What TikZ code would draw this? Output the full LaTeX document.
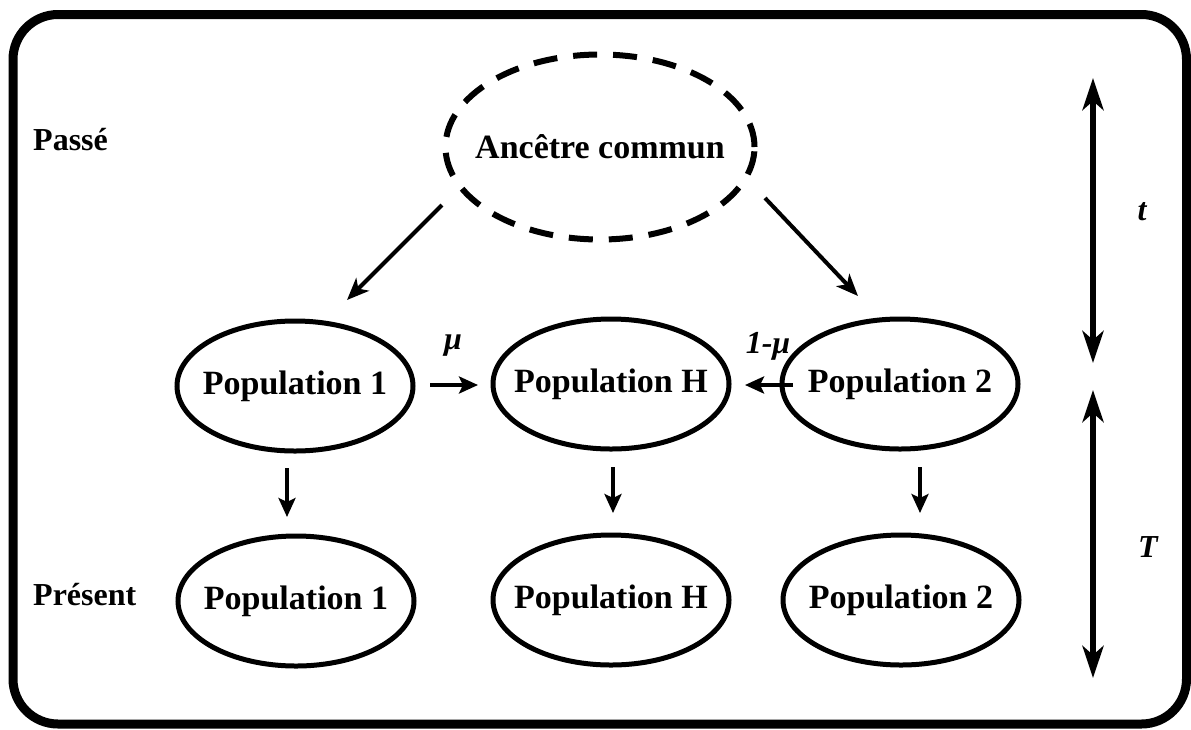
\documentclass[tikz,border=0pt]{standalone}
\usepackage{fontspec}
\setmainfont{Liberation Serif}
\usetikzlibrary{arrows.meta,shapes.geometric,calc}
\newcommand{\ctext}[1]{\makebox[0pt][c]{#1}}
\begin{document}
\begin{tikzpicture}[x=1pt,y=-1pt,
  pop/.style={draw,ellipse,line width=5pt,minimum width=236pt,minimum height=130pt,inner sep=0pt,
    font=\fontsize{34}{40}\selectfont\bfseries},
  anc/.style={draw,ellipse,line width=6pt,dash pattern=on 24pt off 16pt,minimum width=309pt,minimum height=185pt,inner sep=0pt,
    font=\fontsize{34}{40}\selectfont\bfseries},
  lab/.style={inner sep=0pt,font=\fontsize{32}{38}\selectfont\bfseries},
  sym/.style={inner sep=0pt,font=\fontsize{32}{38}\selectfont\bfseries\itshape},
  diag/.style={line width=4pt,-{Stealth[length=22pt,width=18pt,inset=6pt]}},
  small/.style={line width=4.5pt,-{Stealth[length=19pt,width=17pt,inset=4pt]}},
  big/.style={line width=6pt,{Stealth[length=32pt,width=21pt,inset=9pt]}-{Stealth[length=32pt,width=21pt,inset=9pt]}}
]
\useasboundingbox (0,0) rectangle (1191,729);
\draw[line width=9pt,rounded corners=45pt] (13,14.5) rectangle (1186.5,724);

\node[lab,anchor=base west] (passe) at (33,150) {Passé};
\node[lab,anchor=base west] (present) at (33,605) {Présent};

\node[anc] (anc) at (600,147) {\ctext{Ancêtre commun}};

\node[pop] (p1) at (295,386) {\ctext{Population 1}};
\node[pop] (ph) at (611,384) {\ctext{Population H}};
\node[pop] (p2) at (900,384) {\ctext{Population 2}};

\node[pop] (q1) at (296,601) {\ctext{Population 1}};
\node[pop] (qh) at (611,600) {\ctext{Population H}};
\node[pop] (q2) at (901,600) {\ctext{Population 2}};

\draw[diag] ($(anc.center)+(-158,58)$) -- ($(p1.center)+(52,-86)$);
\draw[diag] ($(anc.center)+(165,51)$) -- ($(p2.center)+(-42,-88)$);

\draw[small] ($(p1.center)+(135,-1)$) -- ($(ph.center)+(-133,1)$);
\draw[small] ($(p2.center)+(-107,1)$) -- ($(ph.center)+(134,1)$);
\node[sym] (mu) at (453,346) {μ};
\node[sym] (mu2) at (768,346) {1-μ};

\draw[small] ($(p1.center)+(-8,82)$) -- ($(q1.center)+(-9,-84)$);
\draw[small] ($(ph.center)+(2,83)$) -- ($(qh.center)+(2,-87)$);
\draw[small] ($(p2.center)+(20,83)$) -- ($(q2.center)+(19,-87)$);

\coordinate (ta) at (1093,78);
\coordinate (tb) at (1093,363);
\coordinate (Ta) at (1093,390);
\coordinate (Tb) at (1093,678);
\draw[big] (ta) -- (tb);
\draw[big] (Ta) -- (Tb);
\node[sym] (tl) at (1142,212) {t};
\node[sym] (Tl) at (1148,547) {T};
\end{tikzpicture}
\end{document}
